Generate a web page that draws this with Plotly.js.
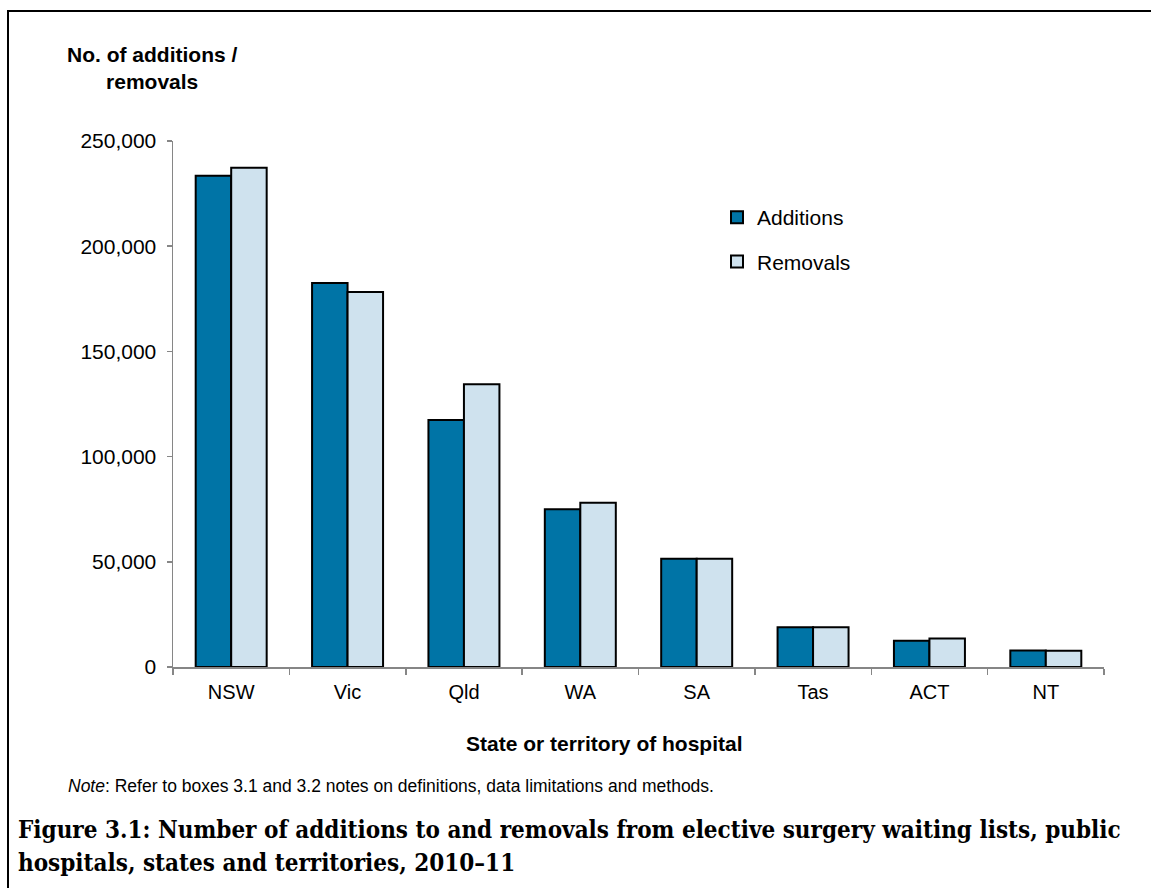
<!DOCTYPE html>
<html>
<head>
<meta charset="utf-8">
<script src="https://cdn.plot.ly/plotly-3.0.1.min.js"></script>
<style>
  html, body { margin: 0; padding: 0; background: #fff; }
  #wrap { position: relative; width: 1151px; height: 888px; overflow: hidden; }
  #chart { position: absolute; left: 0; top: 0; width: 1151px; height: 888px; }
  #frame { position: absolute; left: 7px; top: 10px; width: 1200px; height: 1000px;
           border-top: 2px solid #000; border-left: 2px solid #000; pointer-events: none; }
</style>
</head>
<body>
<div id="wrap">
  <div id="chart"></div>
  <div id="frame"></div>
</div>
<script>
// ---- data ----
const categories = ["NSW", "Vic", "Qld", "WA", "SA", "Tas", "ACT", "NT"];
const additions = [233500, 182500, 117400, 75000, 51400, 18900, 12500, 7900];
const removals  = [237300, 178200, 134400, 78100, 51500, 18900, 13600, 7700];
const yTickVals = [0, 50000, 100000, 150000, 200000, 250000];
const yTickText = ["0", "50,000", "100,000", "150,000", "200,000", "250,000"];

// ---- layout geometry ----
const W = 1151, H = 888;
const mL = 173, mR = 47, mT = 141, mB = 221;
const pw = W - mL - mR, ph = H - mT - mB;
const px = x => (x - mL) / pw;          // pixel -> paper x
const py = y => (H - mB - y) / ph;      // pixel -> paper y

const font = "Liberation Sans, Arial, sans-serif";
const serif = "'DejaVu Serif Condensed', 'DejaVu Serif', serif";

const traces = [
  { type: "bar", name: "Additions", x: categories, y: additions,
    marker: { color: "#0074A6", line: { color: "#000", width: 2 } },
    legendgroup: "a", hoverinfo: "skip" },
  { type: "bar", name: "Removals", x: categories, y: removals,
    marker: { color: "#CFE2EE", line: { color: "#000", width: 2 } },
    legendgroup: "r", hoverinfo: "skip" }
];

const layout = {
  width: W, height: H,
  margin: { l: mL, r: mR, t: mT, b: mB, pad: 0 },
  paper_bgcolor: "#fff", plot_bgcolor: "#fff",
  barmode: "group", bargap: 0.39, bargroupgap: 0,
  font: { family: font, color: "#000", size: 20 },
  showlegend: true,
  legend: { x: px(717), y: py(197), xanchor: "left", yanchor: "top",
            font: { family: font, size: 21, color: "#000" },
            traceorder: "grouped", tracegroupgap: 14, itemwidth: 30,
            bgcolor: "rgba(0,0,0,0)" },
  xaxis: {
    type: "category", showgrid: false, zeroline: false,
    showline: true, linecolor: "#868686", linewidth: 1.5,
    ticks: "outside", ticklen: 6, tickcolor: "#868686", tickwidth: 1.5,
    tickson: "boundaries", ticklabelstandoff: 6,
    tickfont: { family: font, size: 20, color: "#000" },
    range: [-0.5, 7.5]
  },
  yaxis: {
    range: [0, 250000], showgrid: false, zeroline: false,
    showline: true, linecolor: "#868686", linewidth: 1.5,
    ticks: "outside", ticklen: 5, tickcolor: "#868686", tickwidth: 1.5,
    ticklabelstandoff: 6,
    tickvals: yTickVals, ticktext: yTickText,
    tickfont: { family: font, size: 21, color: "#000" }
  },
  annotations: [
    { xref: "paper", yref: "paper", x: px(152), y: py(68), xanchor: "center", yanchor: "middle",
      showarrow: false, align: "center",
      text: "<b>No. of additions /<br>removals</b>",
      font: { family: font, size: 21, color: "#000" } },
    { xref: "paper", yref: "paper", x: px(604), y: py(743), xanchor: "center", yanchor: "middle",
      showarrow: false, text: "<b>State or territory of hospital</b>",
      font: { family: font, size: 21, color: "#000" } },
    { xref: "paper", yref: "paper", x: px(66), y: py(786), xanchor: "left", yanchor: "middle",
      showarrow: false,
      text: "<i>Note</i>: Refer to boxes 3.1 and 3.2 notes on definitions, data limitations and methods.",
      font: { family: font, size: 17.5, color: "#000" } },
    { xref: "paper", yref: "paper", x: px(16), y: py(829), xanchor: "left", yanchor: "middle",
      showarrow: false, align: "left",
      text: "<b>Figure 3.1: Number of additions to and removals from elective surgery waiting lists, public</b>",
      font: { family: serif, size: 24, color: "#000" } },
    { xref: "paper", yref: "paper", x: px(16), y: py(862), xanchor: "left", yanchor: "middle",
      showarrow: false, align: "left",
      text: "<b>hospitals, states and territories, 2010–11</b>",
      font: { family: serif, size: 24, color: "#000" } }
  ]
};

Plotly.newPlot("chart", traces, layout, { staticPlot: true, displayModeBar: false });
</script>
</body>
</html>
